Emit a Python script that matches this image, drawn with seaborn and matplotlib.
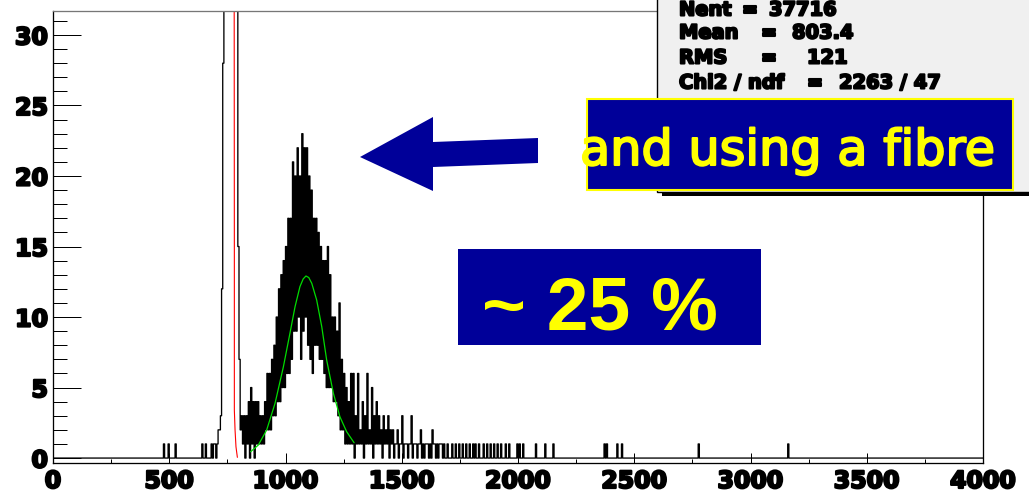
import numpy as np
import pandas as pd
import matplotlib
matplotlib.use("Agg")
import matplotlib.pyplot as plt
import matplotlib.patheffects as pe
from matplotlib.patches import Rectangle, Polygon
from matplotlib.ticker import MultipleLocator
import seaborn as sns

# ---------------- data ----------------
bin_width = 5
x_min, x_max = 0, 4000

left_spike_x = [475, 495, 525, 640, 655]
left_spike_n = [1, 1, 1, 1, 1]

ped_start = 680
ped_counts = [1, 0, 1, 1, 0, 1, 2, 2, 3, 12, 28, 150,
              400, 700, 1000, 1200, 1300, 1300, 1200, 1000, 700, 400, 150, 15]

peak_start = 800
peak_counts = [
    7, 2, 3, 1, 3, 0, 3, 1, 4, 0, 5, 1, 4, 0, 4, 1, 4, 1, 3, 1,
    3, 1, 4, 2, 6, 2, 6, 2, 7, 3, 8, 3, 10, 4, 12, 4, 13, 5, 14, 5,
    15, 6, 17, 6, 17, 7, 21, 9, 20, 9, 22, 10, 20, 7, 23, 9, 22, 10, 22, 8,
    20, 7, 19, 6, 17, 8, 17, 8, 16, 7, 15, 7, 14, 6, 14, 5, 15, 5, 13, 5,
    10, 4, 10, 4, 9, 3, 11, 2, 7, 2, 6, 1, 5, 1, 4, 1, 6, 1, 6, 0,
    3, 1, 6, 1, 2, 1, 4, 0, 3, 1, 6, 1, 2, 1, 5, 0, 3, 1, 4, 1,
    3, 1, 2, 0, 3, 1, 2, 1, 3, 0, 2, 1, 2, 0, 1, 1, 2, 0, 1, 1,
    3, 0, 1, 1, 1, 0, 1, 1, 3, 0, 1, 1, 1, 0, 1, 1, 2, 0, 1, 0,
    1, 1, 1, 0, 1, 0, 2, 1, 1, 0, 1, 0, 1, 1, 1, 0, 1, 0, 0, 1,
]

tail_spike_x = [1715, 1730, 1745, 1760, 1775, 1790, 1805, 1815, 1830, 1850,
                1865, 1880, 1895, 1910, 1925, 1945, 1960, 1995, 2005, 2020,
                2075, 2115, 2150, 2370, 2380, 2425, 2445, 2775, 3160]
tail_spike_n = [1] * len(tail_spike_x)

ped_fit_x = [779, 780, 780, 783, 787, 793]
ped_fit_y = [40.0, 15.0, 3.4, 2.0, 0.8, 0.05]

sig_fit_x = [850, 883, 919, 955, 991, 1019, 1041, 1062, 1076, 1088, 1100,
             1113, 1134, 1156, 1177, 1206, 1234, 1263, 1295]
sig_fit_y = [0.45, 0.92, 1.99, 3.88, 6.48, 8.84, 10.73, 12.15, 12.7, 12.91, 12.8,
             12.39, 11.21, 9.31, 6.95, 4.59, 2.93, 1.87, 1.09]

x_ticks = [0, 500, 1000, 1500, 2000, 2500, 3000, 3500, 4000]
y_ticks = [0, 5, 10, 15, 20, 25, 30]

stats_names = ["Nent", "Mean", "RMS", "Chi2 / ndf"]
stats_values = ["37716", "803.4", "121", "2263 / 47"]

note_text = "and using a fibre"
ratio_text = "~ 25 %"

# ---------------- build histogram ----------------
edges = np.arange(x_min, x_max + bin_width, bin_width)
centers = edges[:-1] + bin_width / 2
counts = np.zeros(len(centers))


def put(start, vals):
    i0 = int((start - x_min) // bin_width)
    for k, v in enumerate(vals):
        counts[i0 + k] = v


for xv, nv in zip(left_spike_x, left_spike_n):
    put(xv, [nv])
put(ped_start, ped_counts)
put(peak_start, peak_counts)
for xv, nv in zip(tail_spike_x, tail_spike_n):
    put(xv, [nv])

df = pd.DataFrame({"adc": centers, "n": counts})
ped_df = pd.DataFrame({"x": ped_fit_x, "y": ped_fit_y})
sig_df = pd.DataFrame({"x": sig_fit_x, "y": sig_fit_y})

# ---------------- figure ----------------
sns.set_theme(style="ticks")
plt.rcParams["font.family"] = ["DejaVu Sans"]

W, H = 1029, 492
PT = 0.72  # points per pixel at dpi 100
fig = plt.figure(figsize=(W / 100, H / 100), dpi=100)
fig.patch.set_facecolor("white")


def fx(px):
    return px / W


def fy(py):
    return 1 - py / H


ax = fig.add_axes([fx(53), fy(463), fx(983) - fx(53), fy(11) - fy(463)])
ax.set_facecolor("white")

sns.histplot(data=df, x="adc", weights="n", binwidth=bin_width,
             binrange=(x_min, x_max), element="step",
             fill=False, color="black", linewidth=0.95, ax=ax)
sns.lineplot(data=ped_df, x="x", y="y", sort=False, color="#ff0000",
             linewidth=0.8, ax=ax, estimator=None)
sns.lineplot(data=sig_df, x="x", y="y", sort=False, color="#00dd00",
             linewidth=0.9, ax=ax, estimator=None)

ax.set_xlim(x_min, x_max)
ax.set_ylim(-0.35, 31.7)
ax.set_xlabel("")
ax.set_ylabel("")
ax.set_xticks(x_ticks)
ax.set_yticks(y_ticks)
ax.xaxis.set_minor_locator(MultipleLocator(250))
ax.yaxis.set_minor_locator(MultipleLocator(1))
ax.tick_params(axis="y", which="major", direction="in", length=28 * PT, width=1.0 * PT,
               pad=5 * PT, labelsize=17, color="black")
ax.tick_params(axis="y", which="minor", direction="in", length=14 * PT, width=1.0 * PT,
               color="black")
ax.tick_params(axis="x", which="major", direction="in", length=10 * PT, width=1.0 * PT,
               pad=6 * PT, labelsize=17, color="black")
ax.tick_params(axis="x", which="minor", direction="in", length=4 * PT, width=1.0 * PT,
               color="black")
for sp in ax.spines.values():
    sp.set_visible(True)
    sp.set_color("black")
    sp.set_linewidth(1.3 * PT)
ax.spines["top"].set_color("#777777")

stroke = [pe.withStroke(linewidth=1.6, foreground="black")]
for lab in ax.get_xticklabels() + ax.get_yticklabels():
    lab.set_fontweight("bold")
    lab.set_color("black")
    lab.set_path_effects(stroke)

# ---------------- stats box ----------------
T = fig.transFigure
fig.add_artist(Rectangle((fx(662), fy(196)), fx(1040) - fx(662), fy(192) - fy(196),
                         transform=T, facecolor="black", edgecolor="none", zorder=5))
fig.add_artist(Rectangle((fx(657), fy(192)), fx(1040) - fx(657), fy(-5) - fy(192),
                         transform=T, facecolor="#f0f0f0", edgecolor="black",
                         linewidth=1.0, zorder=6))
name_x = 679
eq_x = [750, 769, 769, 815]
val_x = [769, 792, 807, 839]
line_y = [10, 33, 58, 83]
skw = dict(transform=T, fontsize=14, fontweight="bold", color="black",
           va="center", zorder=7, path_effects=[pe.withStroke(linewidth=1.5, foreground="black")])
for nm, vl, ex, vx, ly in zip(stats_names, stats_values, eq_x, val_x, line_y):
    fig.text(fx(name_x), fy(ly), nm, ha="left", **skw)
    fig.text(fx(ex), fy(ly), "=", ha="center", **skw)
    fig.text(fx(vx), fy(ly), vl, ha="left", **skw)

# ---------------- annotations ----------------
blue = "#000099"
yellow = "#ffff00"
fig.add_artist(Rectangle((fx(587), fy(190)), fx(1013) - fx(587), fy(99) - fy(190),
                         transform=T, facecolor=blue, edgecolor=yellow,
                         linewidth=1.5, zorder=8))
fig.text(fx(580), fy(165), note_text, transform=T, ha="left", va="baseline",
         fontsize=35.5, color=yellow, family=["DejaVu Sans"],
         fontweight="normal", zorder=9,
         path_effects=[pe.withStroke(linewidth=1.5, foreground=yellow)])

fig.add_artist(Rectangle((fx(458), fy(345)), fx(761) - fx(458), fy(249) - fy(345),
                         transform=T, facecolor=blue, edgecolor="none", zorder=8))
fig.text(fx(600), fy(330), ratio_text, transform=T, ha="center", va="baseline",
         fontsize=54, color=yellow, family=["Liberation Sans", "DejaVu Sans"],
         fontweight="bold", zorder=9)

arrow_px = [(360, 157), (433, 117), (433, 142), (538, 138), (538, 163),
            (433, 167), (433, 191)]
fig.add_artist(Polygon([(fx(a), fy(b)) for a, b in arrow_px], closed=True,
                       transform=T, facecolor=blue, edgecolor="none", zorder=8))

fig.savefig("out.png", dpi=100, facecolor="white")
